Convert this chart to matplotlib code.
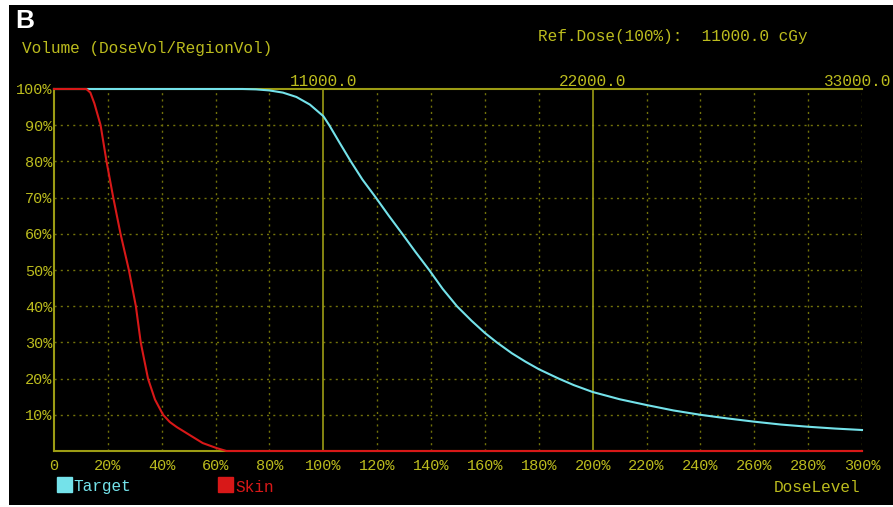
import matplotlib
matplotlib.use("Agg")
import matplotlib.pyplot as plt
from matplotlib.patches import Rectangle

# dose level (% of reference) vs volume (%)
target_dose = [0, 70, 75, 80, 85, 90, 95, 100, 102.2, 106, 110.2, 114.5, 119.5,
               124.3, 129.3, 134.2, 139.3, 144.3, 149.6, 155, 160, 164.4, 170,
               175, 180, 187.4, 193, 200, 210, 220, 230, 240, 250, 260, 270,
               280, 290, 300]
target_vol = [100, 100, 99.9, 99.6, 99.0, 97.8, 95.7, 92.5, 90, 85.2, 80, 75,
              70, 65, 60, 55, 50, 44.8, 40, 36, 32.6, 30, 27, 24.7, 22.6, 20,
              18.2, 16.3, 14.3, 12.7, 11.2, 10, 9, 8.1, 7.3, 6.7, 6.2, 5.8]

skin_dose = [0, 12, 13.5, 15, 17.3, 19.5, 22, 24.7, 27.8, 30.4, 32.2, 34.9,
             37.5, 40.5, 43, 45.6, 50.4, 55.2, 60.4, 64, 300]
skin_vol = [100, 100, 99, 96, 90, 80, 70, 60, 50, 40, 30, 20, 14.2, 10, 8,
            6.6, 4.4, 2.2, 0.8, 0, 0]

ref_dose = 11000.0
x_ticks = list(range(0, 301, 20))
x_labels = ["0"] + ["%d%%" % t for t in x_ticks[1:]]
y_ticks = list(range(10, 101, 10))
y_labels = ["%d%%" % t for t in y_ticks]

W, H = 893, 507
yellow = "#bcbc1e"
axis_col = "#9c9c14"
grid_col = "#72720a"
cyan = "#74e2ea"
red = "#d81818"
mono = "Liberation Mono"
fs = 11.6

fig = plt.figure(figsize=(W / 100, H / 100), dpi=100, facecolor="white")

# black panel behind everything
bg = fig.add_axes([9 / W, 1 - 505 / H, 1 - 9 / W, (505 - 5) / H])
bg.set_facecolor("black")
bg.set_xticks([])
bg.set_yticks([])
for s in bg.spines.values():
    s.set_visible(False)

ax = fig.add_axes([54 / W, 1 - 451 / H, (862 - 54) / W, (451 - 89) / H])
ax.set_facecolor("none")
ax.set_xlim(0, 300)
ax.set_ylim(0, 100)

# dotted grid
for t in x_ticks[1:]:
    if t not in (100, 200):
        ax.axvline(t, color=grid_col, lw=1, ls=(0, (1.5, 3)), zorder=1)
for t in y_ticks[:-1]:
    ax.axhline(t, color=grid_col, lw=1, ls=(0, (1.5, 3)), zorder=1)
for t in (100, 200):
    ax.axvline(t, color=axis_col, lw=1.2, zorder=1)

for side in ("left", "bottom", "top"):
    ax.spines[side].set_color(axis_col)
    ax.spines[side].set_linewidth(1.5)
ax.spines["right"].set_visible(False)

ax.plot(target_dose, target_vol, color=cyan, lw=1.5, clip_on=False, zorder=3)
ax.plot(skin_dose, skin_vol, color=red, lw=1.5, clip_on=False, zorder=4)

ax.set_xticks(x_ticks)
ax.set_xticklabels(x_labels)
ax.set_yticks(y_ticks)
ax.set_yticklabels(y_labels)
ax.tick_params(length=0, colors=yellow, labelsize=11)
ax.tick_params(axis="x", pad=6)
ax.tick_params(axis="y", pad=1)
for lab in ax.get_xticklabels() + ax.get_yticklabels():
    lab.set_family(mono)

# absolute dose labels along the top
for p in (100, 200):
    ax.annotate("%.1f" % (ref_dose * p / 100), xy=(p, 100), xytext=(0, 5.5),
                textcoords="offset points", ha="center", va="center",
                color=yellow, fontsize=fs, family=mono, annotation_clip=False)
# last one sits at the right edge of the panel
fig.text(891 / W, 1 - 81 / H, "%.1f" % (ref_dose * 3), color=yellow,
         fontsize=fs, family=mono, va="center", ha="right")

fig.text(15 / W, 1 - 21 / H, "B", color="white", fontsize=19,
         fontweight="bold", family="Liberation Sans", va="center")
fig.text(22 / W, 1 - 48 / H, "Volume (DoseVol/RegionVol)", color=yellow,
         fontsize=fs, family=mono, va="center")
fig.text(538 / W, 1 - 36 / H, "Ref.Dose(100%%):  %.1f cGy" % ref_dose,
         color=yellow, fontsize=fs, family=mono, va="center")

# legend boxes
fig.add_artist(Rectangle((57 / W, 1 - 492 / H), 15 / W, 15 / H,
                         transform=fig.transFigure, color=cyan))
fig.text(73 / W, 1 - 487 / H, "Target", color=cyan, fontsize=fs,
         family=mono, va="center")
fig.add_artist(Rectangle((218 / W, 1 - 492 / H), 15 / W, 15 / H,
                         transform=fig.transFigure, color=red))
fig.text(235 / W, 1 - 487 / H, "Skin", color=red, fontsize=fs,
         family=mono, va="center")
fig.text(860 / W, 1 - 487 / H, "DoseLevel", color=yellow, fontsize=fs,
         family=mono, va="center", ha="right")

fig.savefig("out.png", dpi=100, facecolor="white")
